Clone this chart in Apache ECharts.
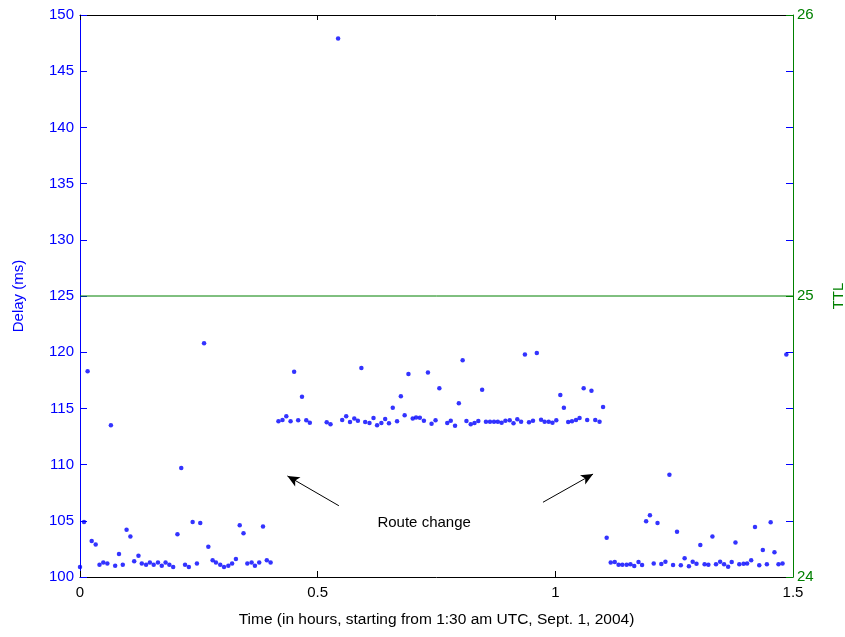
<!DOCTYPE html>
<html>
<head>
<meta charset="utf-8">
<title>Delay and TTL</title>
<script src="https://cdn.jsdelivr.net/npm/echarts@6/dist/echarts.min.js"></script>
<style>
  html, body { margin: 0; padding: 0; background: #fff; }
  #chart { width: 845px; height: 637px; }
</style>
</head>
<body>
<div id="chart"></div>
<script>
// Probe samples, one every ~30 s: time in hours, round-trip delay in ms
var timeHours = [
  0.000, 0.0084, 0.016, 0.0246, 0.033, 0.041, 0.049, 0.0575, 0.065, 0.074,
  0.082, 0.090, 0.098, 0.106, 0.114, 0.123, 0.130, 0.139, 0.147, 0.155,
  0.164, 0.172, 0.180, 0.188, 0.196, 0.205, 0.213, 0.221, 0.229, 0.237,
  0.246, 0.253, 0.261, 0.270, 0.279, 0.286, 0.295, 0.303, 0.312, 0.320,
  0.328, 0.336, 0.344, 0.352, 0.361, 0.368, 0.377, 0.385, 0.393, 0.401,
  0.4175, 0.426, 0.434, 0.443, 0.4505, 0.459, 0.467, 0.476, 0.4835, 0.519,
  0.527, 0.543, 0.5516, 0.560, 0.568, 0.577, 0.5846, 0.592, 0.600, 0.609,
  0.6175, 0.625, 0.634, 0.642, 0.650, 0.658, 0.667, 0.675, 0.683, 0.691,
  0.700, 0.707, 0.715, 0.7235, 0.732, 0.7396, 0.748, 0.756, 0.7726, 0.780,
  0.789, 0.797, 0.805, 0.813, 0.822, 0.830, 0.838, 0.846, 0.854, 0.8625,
  0.871, 0.879, 0.887, 0.895, 0.904, 0.912, 0.920, 0.928, 0.936, 0.9446,
  0.953, 0.961, 0.970, 0.9775, 0.986, 0.994, 1.002, 1.0105, 1.018, 1.027,
  1.035, 1.0435, 1.051, 1.0596, 1.067, 1.076, 1.084, 1.093, 1.1004,
  1.108, 1.1165, 1.125, 1.133, 1.141, 1.150, 1.158, 1.166, 1.175, 1.1825,
  1.191, 1.199, 1.207, 1.215, 1.223, 1.2316, 1.240, 1.2477, 1.256, 1.264,
  1.272, 1.281, 1.289, 1.297, 1.305, 1.314, 1.322, 1.3305, 1.338, 1.3467,
  1.355, 1.3635, 1.371, 1.379, 1.387, 1.396, 1.4035, 1.412, 1.420, 1.429,
  1.4365, 1.445, 1.453, 1.461, 1.4695, 1.478, 1.486
];
var delayMs = [
  100.9, 104.9, 118.3, 103.2, 102.9, 101.1, 101.3, 101.2, 113.5, 101.0,
  102.05, 101.1, 104.2, 103.6, 101.4, 101.9, 101.2, 101.1, 101.3, 101.1,
  101.3, 101.0, 101.3, 101.1, 100.9, 103.8, 109.7, 101.1, 100.9, 104.9,
  101.2, 104.8, 120.8, 102.7, 101.5, 101.3, 101.1, 100.9, 101.0, 101.2,
  101.6, 104.6, 103.9, 101.2, 101.3, 101.0, 101.3, 104.5, 101.5, 101.3,
  113.85, 113.97, 114.3, 113.85, 118.27, 113.94, 116.04, 113.94, 113.73, 113.76,
  113.6, 147.9, 113.97, 114.3, 113.8, 114.1, 113.9, 118.6, 113.8, 113.7,
  114.15, 113.5, 113.7, 114.06, 113.67, 115.06, 113.85, 116.07, 114.4, 118.06,
  114.1, 114.2, 114.17, 113.9, 118.2, 113.64, 113.94, 116.8, 113.7, 113.9,
  113.46, 115.45, 119.28, 113.88, 113.6, 113.7, 113.88, 116.67, 113.82, 113.82,
  113.82, 113.82, 113.73, 113.9, 113.94, 113.67, 114.03, 113.82, 119.8, 113.76,
  113.9, 119.93, 114.0, 113.82, 113.82, 113.73, 113.94, 116.2, 115.06, 113.79,
  113.85, 113.97, 114.15, 116.8, 113.97, 116.57, 113.97, 113.82, 115.12,
  103.5, 101.3, 101.33, 101.1, 101.1, 101.1, 101.13, 100.98, 101.33, 101.07,
  104.95, 105.5, 101.2, 104.8, 101.16, 101.36, 109.1, 101.07, 104.03, 101.04,
  101.66, 100.95, 101.36, 101.18, 102.85, 101.13, 101.1, 103.6, 101.13, 101.36,
  101.13, 100.92, 101.33, 103.06, 101.13, 101.18, 101.2, 101.5, 104.45, 101.04,
  102.4, 101.13, 104.86, 102.2, 101.13, 101.2, 119.8
];

// TTL observed over the whole window
var ttlTimes = [0, 1.5];
var ttlValues = [25, 25];

// Axis ranges and tick steps
var timeRange = [0, 1.5], timeStep = 0.5;
var delayRange = [100, 150], delayStep = 5;
var ttlRange = [24, 26], ttlStep = 1;

// "Route change" note: label anchor and two arrows [tail, head] in (hours, ms)
var noteText = 'Route change';
var noteAnchor = [0.724, 104.83];
var arrowLeft = [[0.5446, 106.34], [0.4364, 108.99]];
var arrowRight = [[0.974, 106.65], [1.0794, 109.16]];

var BLUE = '#0000ff';
var GREEN = '#008000';
var FONT = '"Liberation Sans", Arial, sans-serif';

var scatterData = timeHours.map(function (t, i) { return [t, delayMs[i]]; });
var ttlData = ttlTimes.map(function (t, i) { return [t, ttlValues[i]]; });

var chart = echarts.init(document.getElementById('chart'), null, { renderer: 'canvas' });

chart.setOption({
  animation: false,
  backgroundColor: '#ffffff',
  textStyle: { fontFamily: FONT },
  grid: {
    left: 80, right: 52, top: 15, bottom: 60,
    containLabel: false, outerBoundsMode: 'none'
  },
  xAxis: [
    {
      type: 'value', position: 'bottom',
      min: timeRange[0], max: timeRange[1], interval: timeStep,
      name: 'Time (in hours, starting from 1:30 am UTC, Sept. 1, 2004)',
      nameLocation: 'middle', nameGap: 35,
      nameTextStyle: { color: '#000', fontSize: 15.5, fontFamily: FONT },
      axisLine: { show: true, onZero: false, lineStyle: { color: '#000', width: 1 } },
      axisTick: { show: true, inside: true, length: 6, lineStyle: { color: '#000' } },
      axisLabel: { color: '#000', fontSize: 15, margin: 8, fontFamily: FONT },
      splitLine: { show: false }
    },
    {
      type: 'value', position: 'top',
      min: timeRange[0], max: timeRange[1], interval: timeStep,
      axisLine: { show: true, onZero: false, lineStyle: { color: '#000', width: 1 } },
      axisTick: { show: true, inside: true, length: 5, lineStyle: { color: '#000' } },
      axisLabel: { show: false },
      splitLine: { show: false }
    }
  ],
  yAxis: [
    {
      type: 'value', position: 'left',
      min: delayRange[0], max: delayRange[1], interval: delayStep,
      name: 'Delay (ms)', nameLocation: 'middle', nameGap: 54, nameRotate: 90,
      nameTextStyle: { color: BLUE, fontSize: 15, fontFamily: FONT },
      axisLine: { show: true, onZero: false, lineStyle: { color: BLUE, width: 1 } },
      axisTick: { show: true, inside: true, length: 7, lineStyle: { color: BLUE } },
      axisLabel: { color: BLUE, fontSize: 15, margin: 6, fontFamily: FONT },
      splitLine: { show: false }
    },
    {
      // delay ticks mirrored on the right-hand box edge
      type: 'value', position: 'right', z: 0,
      min: delayRange[0], max: delayRange[1], interval: delayStep,
      axisLine: { show: true, onZero: false, lineStyle: { color: BLUE, width: 1, opacity: 0 } },
      axisTick: { show: true, inside: true, length: 7, lineStyle: { color: BLUE, width: 1, opacity: 1 } },
      axisLabel: { show: false },
      splitLine: { show: false }
    },
    {
      type: 'value', position: 'right', z: 2,
      min: ttlRange[0], max: ttlRange[1], interval: ttlStep,
      name: 'TTL', nameLocation: 'middle', nameGap: 38, nameRotate: 90,
      nameTextStyle: { color: GREEN, fontSize: 15, fontFamily: FONT },
      axisLine: { show: true, onZero: false, lineStyle: { color: GREEN, width: 1 } },
      axisTick: { show: true, inside: true, length: 7, lineStyle: { color: GREEN } },
      axisLabel: { color: GREEN, fontSize: 15, margin: 4, fontFamily: FONT },
      splitLine: { show: false }
    }
  ],
  series: [
    {
      name: 'TTL', type: 'line',
      xAxisIndex: 0, yAxisIndex: 2,
      data: ttlData,
      symbol: 'none',
      lineStyle: { color: GREEN, width: 1 },
      z: 1
    },
    {
      name: 'Delay', type: 'scatter',
      xAxisIndex: 0, yAxisIndex: 0,
      data: scatterData,
      symbol: 'circle', symbolSize: 4.5,
      itemStyle: { color: BLUE },
      z: 3,
      markLine: {
        silent: true,
        symbol: ['none', 'arrow'],
        symbolSize: [8, 12],
        label: { show: false },
        lineStyle: { color: '#000', width: 1, type: 'solid' },
        data: [
          [{ coord: arrowLeft[0] }, { coord: arrowLeft[1] }],
          [{ coord: arrowRight[0] }, { coord: arrowRight[1] }]
        ]
      },
      markPoint: {
        silent: true,
        symbol: 'circle', symbolSize: 0,
        label: {
          show: true, position: 'inside', formatter: noteText,
          color: '#000', fontSize: 15, fontFamily: FONT
        },
        data: [{ coord: noteAnchor }]
      }
    }
  ]
});
</script>
</body>
</html>
